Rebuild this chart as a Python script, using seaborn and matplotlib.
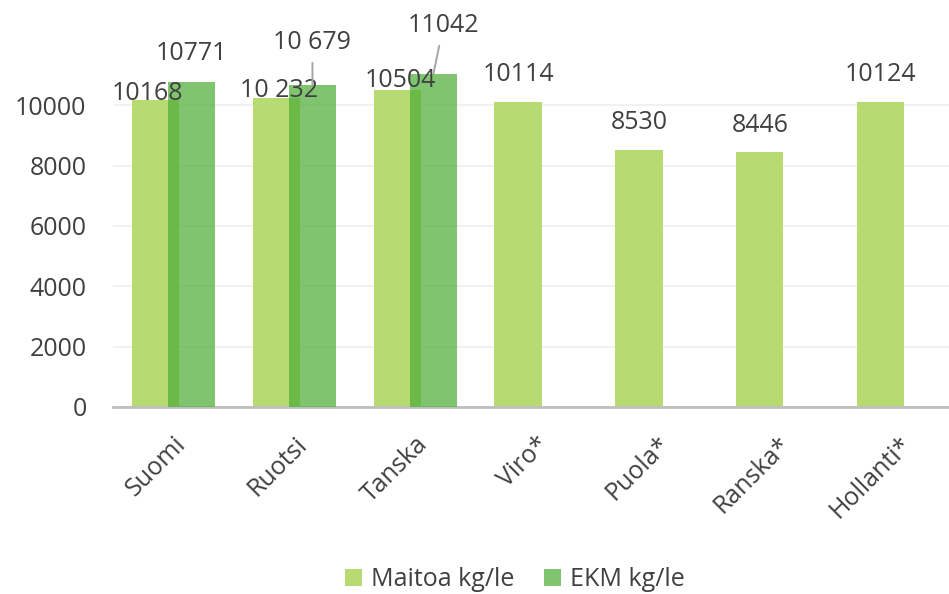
import numpy as np
import pandas as pd
import matplotlib.pyplot as plt
import seaborn as sns

# data
categories = ["Suomi", "Ruotsi", "Tanska", "Viro*", "Puola*", "Ranska*", "Hollanti*"]
maitoa = [10168, 10232, 10504, 10114, 8530, 8446, 10124]
ekm = [10771, 10679, 11042]
maitoa_labels = ["10168", "10 232", "10504", "10114", "8530", "8446", "10124"]
ekm_labels = ["10771", "10 679", "11042"]

LIGHT = "#b7db71"
DARK = "#4cad36"
TEXT = "#404040"

sns.set_theme(style="white")
plt.rcParams["font.family"] = ["Open Sans", "DejaVu Sans"]

fig = plt.figure(figsize=(9.49, 5.94), dpi=100)
ax = fig.add_axes([0.119, 0.315, 0.892, 0.599])

pos = np.arange(len(categories))
shift = 0.15
df_m = pd.DataFrame({"x": pos - shift, "y": maitoa})
df_e = pd.DataFrame({"x": pos[:len(ekm)] + shift, "y": ekm})

sns.barplot(data=df_m, x="x", y="y", native_scale=True, width=0.39, linewidth=0,
            color=LIGHT, saturation=1, ax=ax, label="Maitoa kg/le", zorder=2)
sns.barplot(data=df_e, x="x", y="y", native_scale=True, width=0.39, linewidth=0,
            color=DARK, alpha=0.71, saturation=1, ax=ax, label="EKM kg/le", zorder=3)

ax.set_xlim(-0.5, len(categories) - 0.5)
ax.set_ylim(0, 11800)
ax.set_yticks(range(0, 10001, 2000))
ax.set_xticks(pos)
ax.set_xticklabels(categories, rotation=45, ha="right", rotation_mode="anchor",
                   fontsize=18, color=TEXT)
ax.tick_params(axis="y", labelsize=18, labelcolor=TEXT, length=0, pad=19)
ax.tick_params(axis="x", length=0, pad=18)
ax.set_xlabel("")
ax.set_ylabel("")
ax.yaxis.grid(True, color="#efefef", linewidth=1.2, zorder=0)
ax.set_axisbelow(True)
for side in ["left", "right", "top"]:
    ax.spines[side].set_visible(False)
ax.spines["bottom"].set_color("#bfbfbf")
ax.spines["bottom"].set_linewidth(2)

# label placement offsets (pixels)
m_off = [(-8, 7), (3, 8), (3, 10), (0, 27), (0, 27), (0, 27), (0, 27)]
e_off = [(0, 29), (0, 42), (10, 48)]

for i, (v, t) in enumerate(zip(maitoa, maitoa_labels)):
    ax.annotate(t, xy=(pos[i] - shift, v), xytext=m_off[i], textcoords="offset pixels",
                ha="center", va="center", fontsize=18, color=TEXT, zorder=5)
for i, (v, t) in enumerate(zip(ekm, ekm_labels)):
    dx, dy = e_off[i]
    lead = dict(arrowstyle="-", color="#a6a6a6", lw=1.4, shrinkA=3, shrinkB=0) if dy > 35 else None
    ax.annotate(t, xy=(pos[i] + shift, v), xytext=(dx, dy), textcoords="offset pixels",
                ha="center", va="center", fontsize=18, color=TEXT, zorder=5,
                arrowprops=lead)

leg = ax.legend(loc="center", bbox_to_anchor=(0.475, -0.486),
                ncol=2, frameon=False, fontsize=18, handlelength=0.68, handleheight=0.68,
                columnspacing=1.2, handletextpad=0.35)
for txt in leg.get_texts():
    txt.set_color(TEXT)

fig.savefig("out.png", dpi=100)
